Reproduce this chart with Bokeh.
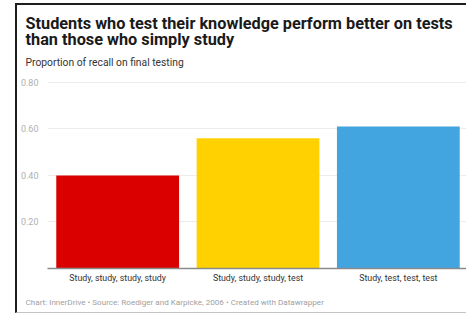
from bokeh.plotting import figure
from bokeh.models import ColumnDataSource, FactorRange, Range1d, Title, FixedTicker
from bokeh.embed import file_html
from bokeh.resources import INLINE

# ---- data ----
categories = ["Study, study, study, study", "Study, study, study, test", "Study, test, test, test"]
recall = [0.40, 0.56, 0.61]
bar_colors = ["#db0000", "#ffd100", "#43a5e0"]
y_ticks = [0.2, 0.4, 0.6, 0.8]
y_tick_labels = ["0.20", "0.40", "0.60", "0.80"]

title_text = "Students who test their knowledge perform better on tests\nthan those who simply study"
subtitle_text = "Proportion of recall on final testing"
footer_text = "Chart: InnerDrive \u2022 Source: Roediger and Karpicke, 2006 \u2022 Created with Datawrapper"

FONT = "Roboto"

source = ColumnDataSource(dict(cat=categories, val=recall, color=bar_colors))

p = figure(
    x_range=FactorRange(*categories, range_padding=0),
    y_range=Range1d(0, 0.8383),
    width=451, height=310,
    output_backend="svg", toolbar_location=None,
    title=None,
    min_border_left=28, min_border_right=0, min_border_top=68, min_border_bottom=45,
)
p.styles = {
    "margin-left": "15px",
    "margin-top": "3px",
    "border-left": "2px solid #1e1e1e",
    "border-top": "2px solid #1e1e1e",
    "border-bottom": "1px solid #c4c4c4",
}

p.vbar(x="cat", top="val", width=0.875, color="color", source=source, line_color=None)

# y axis
p.yaxis.ticker = FixedTicker(ticks=y_ticks)
p.yaxis.major_label_overrides = {t: l for t, l in zip(y_ticks, y_tick_labels)}
p.yaxis.axis_line_color = None
p.yaxis.major_tick_line_color = None
p.yaxis.minor_tick_line_color = None
p.yaxis.major_label_text_font = FONT
p.yaxis.major_label_text_font_size = "9px"
p.yaxis.major_label_text_color = "#b0b0b0"
p.yaxis.major_label_standoff = 3

# x axis
p.xaxis.axis_line_color = "#8a8a8a"
p.xaxis.axis_line_width = 1.5
p.xaxis.major_tick_line_color = None
p.xaxis.minor_tick_line_color = None
p.xaxis.major_label_text_font = FONT
p.xaxis.major_label_text_font_size = "8.8px"
p.xaxis.major_label_text_color = "#333333"
p.xaxis.major_label_standoff = -2

p.xgrid.grid_line_color = None
p.ygrid.ticker = FixedTicker(ticks=y_ticks)
p.ygrid.grid_line_color = "#ececec"
p.outline_line_color = None

# titles (first added is closest to the plot)
p.add_layout(Title(text=subtitle_text, text_font=FONT, text_font_size="10.3px",
                   text_font_style="normal", text_color="#333333", align="left",
                   offset=-22, standoff=9), "above")
p.add_layout(Title(text=title_text, text_font=FONT, text_font_size="16.3px",
                   text_font_style="bold", text_color="#1a1a1a", align="left",
                   offset=-22, text_line_height=0.87, standoff=0), "above")
p.add_layout(Title(text=footer_text, text_font=FONT, text_font_size="8.1px",
                   text_font_style="normal", text_color="#a0a0a0", align="left",
                   offset=-22, standoff=18), "below")

open("out.html", "w").write(file_html(p, INLINE))
